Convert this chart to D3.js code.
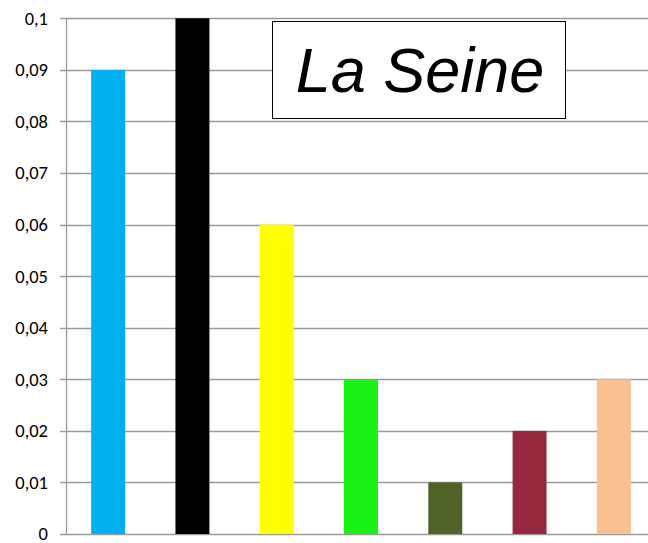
<!DOCTYPE html>
<html><head><meta charset="utf-8">
<script src="https://cdn.jsdelivr.net/npm/d3@7"></script>
<style>body{margin:0;background:#fff}svg{display:block}</style>
</head><body>
<svg id="c" width="648" height="543"></svg>
<script>
const categories = ["A","B","C","D","E","F","G"];
const values = [0.09, 0.10, 0.06, 0.03, 0.01, 0.02, 0.03];
const colors = ["#00B0F0","#000000","#FFFF00","#19F214","#4F6228","#95283F","#FAC090"];
const yTicks = [0,0.01,0.02,0.03,0.04,0.05,0.06,0.07,0.08,0.09,0.1];
const title = "La Seine";

const svg = d3.select("#c");
const x = d3.scaleBand().domain(categories).range([66, 656]).paddingInner(0.597).paddingOuter(0.2985);
const y = d3.scaleLinear().domain([0, 0.1]).range([534, 18.3]);
const fmt = v => String(+v.toFixed(2)).replace(".", ",");

svg.append("g").selectAll("line").data(yTicks).join("line")
  .attr("x1", 60).attr("x2", 648)
  .attr("y1", d => Math.round(y(d)) + 0.5).attr("y2", d => Math.round(y(d)) + 0.5)
  .attr("stroke", "#9a9a9a").attr("stroke-width", 1.3);

svg.append("line").attr("x1", 66.5).attr("x2", 66.5).attr("y1", y(0.1)).attr("y2", y(0) + 1)
  .attr("stroke", "#9a9a9a").attr("stroke-width", 1.3);

svg.append("g").selectAll("text").data(yTicks).join("text")
  .attr("x", 48).attr("y", d => y(d)).attr("dy", "0.35em")
  .attr("text-anchor", "end")
  .attr("font-family", "Carlito, 'Open Sans', 'Liberation Sans', sans-serif")
  .attr("font-size", 18.5).attr("fill", "#000")
  .text(d => fmt(d));

svg.append("g").selectAll("rect").data(values).join("rect")
  .attr("x", (d, i) => x(categories[i]))
  .attr("width", x.bandwidth())
  .attr("y", d => y(d))
  .attr("height", d => y(0) - y(d))
  .attr("fill", (d, i) => colors[i]);

svg.append("rect").attr("x", 272.5).attr("y", 21.5).attr("width", 293).attr("height", 97)
  .attr("fill", "#fff").attr("stroke", "#000").attr("stroke-width", 1);
svg.append("text").attr("x", 420).attr("y", 92).attr("text-anchor", "middle")
  .attr("font-family", "'Liberation Sans', Arial, sans-serif").attr("font-style", "italic")
  .attr("font-size", 63).attr("fill", "#000").text(title);
</script>
</body></html>
